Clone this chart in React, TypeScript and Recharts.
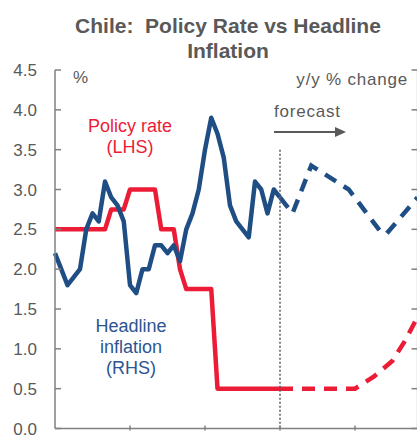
import React from 'react';
import { LineChart, Line, XAxis, YAxis, ReferenceLine } from 'recharts';

// month index 0 = Jan 2018
const inflation = [
  2.2, 2.0, 1.8, 1.9, 2.0, 2.5, 2.7, 2.6, 3.1, 2.9, 2.8, 2.6,
  1.8, 1.7, 2.0, 2.0, 2.3, 2.3, 2.2, 2.3, 2.1, 2.5, 2.7, 3.0,
  3.5, 3.9, 3.7, 3.4, 2.8, 2.6, 2.5, 2.4, 3.1, 3.0, 2.7, 3.0,
  2.9,
];
const policyRate = [
  2.5, 2.5, 2.5, 2.5, 2.5, 2.5, 2.5, 2.5, 2.5, 2.75, 2.75, 2.75,
  3.0, 3.0, 3.0, 3.0, 3.0, 2.5, 2.5, 2.5, 2.0, 1.75, 1.75, 1.75,
  1.75, 1.75, 0.5, 0.5, 0.5, 0.5, 0.5, 0.5, 0.5, 0.5, 0.5, 0.5,
  0.5,
];
const inflationForecast: [number, number][] = [
  [36, 2.9], [38, 2.7], [41, 3.3], [46, 3.05], [47, 3.0], [52, 2.48], [53, 2.44], [58, 2.9],
];
const rateForecast: [number, number][] = [
  [36, 0.5], [48, 0.5], [51, 0.65], [54, 0.85], [56, 1.1], [58, 1.4],
];
const yTicks = [0, 0.5, 1.0, 1.5, 2.0, 2.5, 3.0, 3.5, 4.0, 4.5];
const yearTicks = [0, 12, 24, 36, 48];
const lastMonth = 58;

const RED = '#ED1C36';
const BLUE = '#1F4E85';
const TEXT = '#595959';
const AXIS = '#808080';
const FONT = '"Liberation Sans", Arial, sans-serif';

const find = (list: [number, number][], m: number) => {
  const hit = list.find((p) => p[0] === m);
  return hit ? hit[1] : null;
};

const data = Array.from({ length: lastMonth + 1 }, (_, m) => ({
  m,
  infl: inflation[m] ?? null,
  rate: policyRate[m] ?? null,
  inflF: find(inflationForecast, m),
  rateF: find(rateForecast, m),
}));

const LeftTick = (props: any) => {
  const { x, y, payload } = props;
  return (
    <g>
      <line x1={x + 18} x2={x + 24} y1={y} y2={y} stroke={AXIS} strokeWidth={1.5} />
      <text x={x} y={y} dy="0.36em" textAnchor="end" fill={TEXT} fontSize={17} fontFamily={FONT}>
        {payload.value.toFixed(1)}
      </text>
    </g>
  );
};

// right axis labels sit outside the visible frame, only the inner tick marks show
const RightTick = (props: any) => {
  const { x, y } = props;
  return <line x1={x - 14} x2={x - 8} y1={y} y2={y} stroke={AXIS} strokeWidth={1.5} />;
};

const BottomTick = (props: any) => {
  const { x, y, payload } = props;
  if (payload.value === 0) return <g />;
  return <line x1={x} x2={x} y1={y - 5} y2={y} stroke={AXIS} strokeWidth={1.5} />;
};

export default function App() {
  return (
    <div style={{ position: 'absolute', left: 0, top: 0, width: 417, height: 438, overflow: 'hidden', background: '#fff' }}>
      <LineChart width={480} height={470} data={data} margin={{ top: 70, right: 12.5, bottom: 11.5, left: 0 }}>
        <XAxis
          dataKey="m"
          type="number"
          domain={[0, lastMonth]}
          ticks={yearTicks}
          height={30}
          tickSize={0}
          tickLine={false}
          tick={<BottomTick />}
          axisLine={{ stroke: AXIS, strokeWidth: 1.5 }}
        />
        <YAxis
          yAxisId="left"
          domain={[0, 4.5]}
          ticks={yTicks}
          width={55}
          tickSize={0}
          tickMargin={18}
          tickLine={false}
          tick={<LeftTick />}
          axisLine={{ stroke: AXIS, strokeWidth: 1.5 }}
        />
        <YAxis
          yAxisId="right"
          orientation="right"
          domain={[0, 4.5]}
          ticks={yTicks}
          width={50}
          tickSize={0}
          tickMargin={8}
          tickLine={false}
          tick={<RightTick />}
          axisLine={{ stroke: AXIS, strokeWidth: 1.25 }}
        />
        <Line yAxisId="left" dataKey="rate" stroke={RED} strokeWidth={4.5} dot={false} strokeLinejoin="round" isAnimationActive={false} />
        <Line yAxisId="left" dataKey="rateF" stroke={RED} strokeWidth={4.5} strokeDasharray="13 9" dot={false} connectNulls isAnimationActive={false} />
        <Line yAxisId="right" dataKey="infl" stroke={BLUE} strokeWidth={4.5} dot={false} strokeLinejoin="round" isAnimationActive={false} />
        <Line yAxisId="right" dataKey="inflF" stroke={BLUE} strokeWidth={4.5} strokeDasharray="13 9" dot={false} connectNulls isAnimationActive={false} />
        <ReferenceLine
          yAxisId="left"
          segment={[{ x: 36, y: 3.5 }, { x: 36, y: 0 }]}
          stroke={TEXT}
          strokeWidth={1.5}
          strokeDasharray="2 2"
        />
      </LineChart>
      <svg width={417} height={438} style={{ position: 'absolute', left: 0, top: 0, pointerEvents: 'none' }} fontFamily={FONT}>
        <text x={228} y={33} textAnchor="middle" fontSize={21} fontWeight="bold" fill={TEXT} style={{ whiteSpace: 'pre' }}>
          Chile:  Policy Rate vs Headline
        </text>
        <text x={228} y={58} textAnchor="middle" fontSize={21} fontWeight="bold" fill={TEXT}>
          Inflation
        </text>
        <text x={73} y={83} fontSize={17} fill={TEXT}>%</text>
        <text x={408} y={85} textAnchor="end" fontSize={17} fill={TEXT} letterSpacing={0.8}>y/y % change</text>
        <text x={274} y={117} fontSize={17} fill={TEXT} letterSpacing={0.8}>forecast</text>
        <line x1={274} x2={337} y1={132} y2={132} stroke={TEXT} strokeWidth={2} />
        <polygon points="335,127 346,132 335,137" fill={TEXT} />
        <text x={130} y={132} textAnchor="middle" fontSize={18} fill={RED}>Policy rate</text>
        <text x={130} y={153} textAnchor="middle" fontSize={18} fill={RED}>(LHS)</text>
        <text x={131} y={332} textAnchor="middle" fontSize={18} fill="#2C5591">Headline</text>
        <text x={131} y={353} textAnchor="middle" fontSize={18} fill="#2C5591">inflation</text>
        <text x={131} y={374} textAnchor="middle" fontSize={18} fill="#2C5591">(RHS)</text>
      </svg>
    </div>
  );
}
